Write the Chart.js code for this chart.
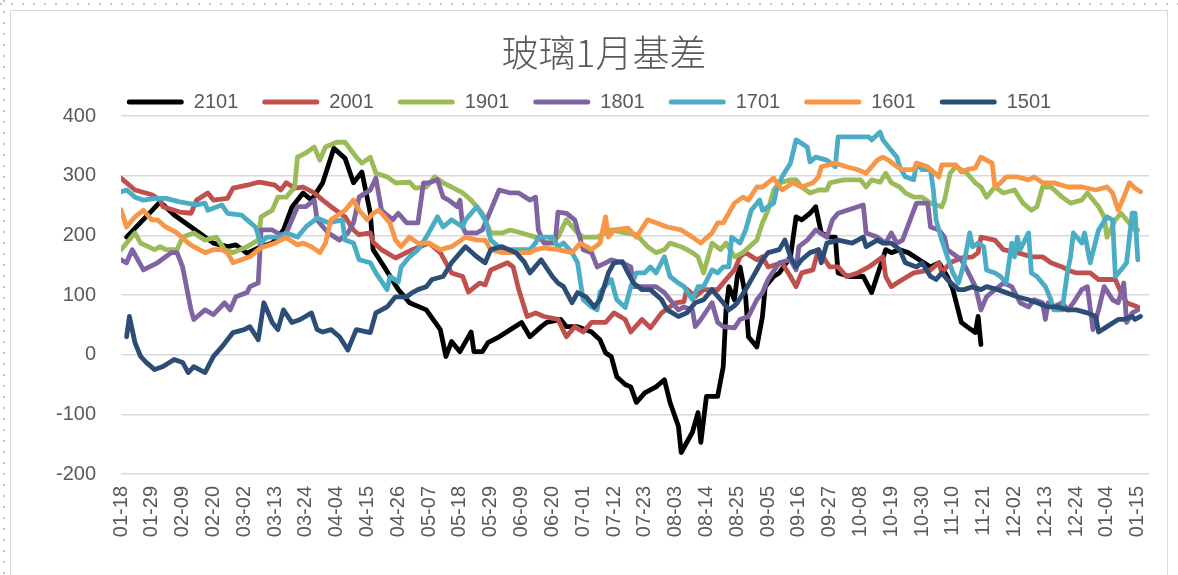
<!DOCTYPE html>
<html>
<head>
<meta charset="utf-8">
<script src="https://cdn.jsdelivr.net/npm/chart.js@4.4.1/dist/chart.umd.min.js"></script>
<style>
html,body{margin:0;padding:0;background:#fff;}
#wrap{position:relative;width:1178px;height:575px;overflow:hidden;background:#fff;}
#frame{position:absolute;left:10px;top:10px;width:1158px;height:600px;border:1.5px solid #d9d9d9;box-sizing:border-box;}
#dotsTop{position:absolute;left:0;top:3px;width:1178px;height:2px;background-image:linear-gradient(to right,#c4c4c4 2px,transparent 2px);background-size:11px 2px;}
#dotsLeft{position:absolute;left:3px;top:0;width:2px;height:575px;background-image:linear-gradient(to bottom,#c4c4c4 2px,transparent 2px);background-size:2px 11px;}
canvas{position:absolute;left:0;top:0;}
</style>
</head>
<body>
<div id="wrap"><div id="dotsTop"></div><div id="dotsLeft"></div><div id="frame"></div><canvas id="c" width="1178" height="575"></canvas></div>
<script>
// x tick labels (every 11 days, day offset 0 = 01-18)
const tickLabels = ['01-18','01-29','02-09','02-20','03-02','03-13','03-24','04-04','04-15','04-26','05-07','05-18','05-29','06-09','06-20','07-01','07-12','07-23','08-03','08-14','08-25','09-05','09-16','09-27','10-08','10-19','10-30','11-10','11-21','12-02','12-13','12-24','01-04','01-15'];
const seriesNames = ['2101','2001','1901','1801','1701','1601','1501'];
const seriesColors = ['#000000','#c0504d','#9bbb59','#8064a2','#4bacc6','#f79646','#2c4d75'];

// day offsets (from 01-18) and basis values per contract
const d2101 = [2,14,19,25,33,38,41,45,50,54,58,61,65,68,72,76,80,83,86,89,90,94,99,103,109,114,116,118,121,125,126,129,131,135,139,143,146,150,152,157,159,163,168,171,173,175,177,180,182,184,187,191,194,196,199,200,204,206,207,209,213,215,216,217,219,220,221,223,224,227,229,230,233,235,239,241,243,246,248,250,253,255,256,260,265,268,271,273,275,278,281,285,289,292,295,297,300,302,305,306,307];
const v2101 = [197,256,234,214,187,181,184,170,181,187,209,247,271,259,288,346,329,288,306,237,176,147,109,87,75,42,-3,22,5,38,5,5,20,30,42,54,30,47,54,59,47,47,38,25,3,-3,-37,-50,-54,-80,-64,-54,-42,-80,-120,-164,-130,-97,-147,-70,-70,-20,75,114,92,131,147,97,30,13,64,114,131,137,164,231,226,237,248,204,197,197,137,131,131,104,147,176,171,176,171,159,147,154,131,109,54,47,37,64,17];

const d2001 = [0,5,11,14,15,21,25,27,31,33,38,40,45,49,51,55,57,59,62,65,69,72,75,80,83,85,89,90,93,98,104,110,114,118,122,124,128,130,132,138,140,142,145,148,151,156,159,162,165,168,173,176,180,182,186,189,193,198,201,202,205,208,213,216,219,221,223,227,229,231,236,239,241,243,247,249,253,256,259,263,267,272,273,275,279,283,289,292,293,296,300,304,306,307,312,315,320,325,329,332,336,338,341,346,349,355,357,359,363];
const v2001 = [296,276,268,259,248,239,237,259,271,259,262,279,284,289,288,284,276,288,279,281,271,259,248,231,209,201,204,189,176,162,176,187,171,137,131,105,120,117,142,154,147,109,64,70,64,59,30,47,38,54,54,70,59,38,59,45,70,87,89,110,97,109,109,126,142,164,171,159,164,147,154,131,114,137,142,176,147,147,131,137,147,164,131,114,126,137,142,154,137,154,162,164,171,197,192,176,171,164,164,154,147,142,137,137,126,126,104,87,80];

const d1901 = [0,5,7,12,14,16,20,22,26,30,34,37,40,45,49,50,54,56,59,62,63,66,69,71,73,77,80,84,86,89,91,95,98,103,105,109,112,115,118,122,125,129,132,136,139,143,148,152,156,159,163,165,170,175,180,184,188,191,194,196,200,204,206,208,211,214,216,219,222,227,229,231,233,235,239,241,243,246,249,252,253,258,264,266,268,271,273,275,278,280,283,286,289,293,294,296,298,300,302,305,307,309,312,315,319,322,325,327,329,332,336,339,343,345,349,351,352,355,357,359,362,363];
const v1901 = [176,204,187,176,181,176,176,197,204,192,197,176,171,181,192,231,242,264,264,281,331,338,348,326,348,356,356,331,321,331,304,298,288,289,279,281,298,288,281,271,259,237,204,204,209,204,197,187,197,226,204,197,197,209,204,201,181,171,176,187,181,171,164,137,187,176,187,164,171,192,221,242,276,288,293,293,281,271,276,276,288,293,293,281,293,289,304,288,281,271,264,264,254,248,259,304,315,310,304,288,281,264,281,271,276,254,242,248,281,281,264,254,259,271,248,231,197,226,237,226,209,209];

const d1801 = [0,2,4,8,13,18,20,22,25,26,30,33,37,39,41,45,46,49,50,54,57,59,63,66,69,70,74,78,81,83,85,89,91,93,97,99,102,106,108,110,113,115,117,120,121,122,123,127,129,132,135,139,142,146,148,149,151,155,156,159,162,163,165,168,170,173,175,179,182,183,187,191,194,196,199,201,204,205,207,211,213,215,219,221,224,227,229,231,235,239,241,242,245,248,252,254,256,265,266,270,273,275,277,279,284,288,289,292,294,295,300,302,305,307,309,312,315,318,321,324,326,329,330,331,333,336,338,340,343,345,347,349,351,354,356,358,359,361,363];
const v1801 = [159,154,176,142,154,171,171,147,75,59,75,67,87,75,97,104,114,120,209,209,201,204,248,248,259,226,204,192,204,221,264,276,296,242,226,237,221,221,288,288,293,264,259,248,259,214,204,204,209,242,276,271,271,259,264,209,187,187,239,237,226,209,176,171,147,154,159,154,147,114,114,114,104,92,75,80,75,47,59,87,54,47,45,59,64,92,104,126,154,159,142,181,192,209,197,226,237,251,204,197,187,204,187,192,254,254,214,209,197,176,159,142,114,75,97,109,120,114,87,80,92,87,59,87,80,87,75,87,109,114,42,75,114,92,87,120,54,70,75];

const d1701 = [0,2,5,8,12,16,21,27,30,31,36,38,43,45,48,50,52,57,59,63,66,70,74,79,80,83,85,89,91,95,96,99,100,103,106,109,113,115,118,122,123,127,130,132,136,142,146,148,149,154,156,158,161,163,165,168,170,171,175,177,180,182,184,187,189,191,194,196,199,201,204,206,208,211,213,215,217,218,221,223,225,228,229,231,233,234,236,239,241,245,246,248,252,255,256,260,267,268,271,272,274,277,278,280,283,284,286,289,290,291,293,295,297,299,301,303,304,306,308,309,312,314,316,318,319,320,321,324,325,327,330,332,333,336,338,339,340,343,344,346,349,352,354,355,357,359,361,362,363];
const v1701 = [273,276,264,259,262,262,256,251,254,242,251,237,234,226,214,187,197,197,204,197,214,229,221,226,192,187,159,154,137,109,131,122,147,164,176,197,231,214,226,214,226,248,226,192,176,176,176,187,197,197,181,187,171,154,92,80,75,105,126,92,79,114,137,137,147,137,164,131,120,114,92,114,114,142,137,147,147,197,187,209,242,259,242,248,254,276,298,321,360,348,323,331,326,315,365,365,365,360,373,360,348,331,315,298,293,321,310,310,276,226,192,164,137,120,154,204,181,187,181,142,137,131,120,187,164,197,176,204,137,131,114,92,75,75,142,164,204,187,204,154,209,231,226,131,142,154,237,237,159];

const d1601 = [0,2,5,8,11,13,16,20,24,26,30,33,36,38,40,43,46,49,51,55,57,59,63,65,68,71,73,75,80,83,85,88,90,92,96,98,100,103,106,110,114,118,123,127,130,132,136,141,146,148,151,156,161,164,168,171,173,174,176,181,184,188,191,195,200,204,207,211,213,215,219,222,224,227,229,233,236,240,243,247,249,250,255,259,263,266,270,272,274,277,279,283,284,288,292,293,298,300,302,305,307,311,312,314,316,320,324,326,329,333,338,343,348,352,354,356,358,360,362,364];
const v1601 = [243,214,231,242,226,226,214,204,187,181,171,176,176,171,154,159,164,176,181,187,192,196,184,187,181,171,187,226,242,259,242,226,237,242,221,192,181,197,187,187,176,181,197,192,192,176,171,171,171,176,179,176,171,187,176,187,231,197,209,212,197,226,221,214,209,197,187,204,221,221,254,264,259,281,281,296,276,288,281,288,298,315,321,315,310,304,326,331,326,315,310,310,321,315,298,318,318,306,310,313,331,321,281,288,298,298,293,298,288,288,281,281,276,281,271,242,264,288,279,273];

const d1501 = [2,3,5,7,9,12,15,19,22,24,26,30,33,36,38,40,44,46,49,51,54,56,58,61,64,68,70,72,75,78,81,84,89,91,95,98,102,104,106,109,111,115,118,123,127,130,132,136,141,144,146,150,154,156,158,161,163,166,169,171,174,176,179,181,183,186,189,193,195,199,202,205,208,211,215,217,219,220,223,227,229,231,235,237,239,241,243,246,249,250,252,256,261,265,266,270,272,275,278,280,284,286,289,291,293,295,299,301,304,307,309,313,316,320,324,327,331,334,338,341,345,348,349,352,356,358,361,362,364];
const v1501 = [30,64,20,-3,-13,-25,-20,-8,-13,-30,-20,-30,-3,13,25,37,42,47,25,87,54,42,75,54,59,70,42,38,42,30,8,42,37,70,80,97,97,104,109,114,126,131,154,181,164,154,176,181,171,155,137,159,131,120,114,87,104,97,80,92,137,154,156,137,120,109,109,92,75,64,70,87,92,109,87,75,82,87,109,142,159,171,176,192,164,147,159,171,176,154,187,192,187,197,181,192,187,187,176,154,147,154,131,126,137,126,109,109,114,109,114,109,104,97,92,87,80,80,75,75,70,64,38,47,59,59,64,59,64];

const dayLists = [d2101, d2001, d1901, d1801, d1701, d1601, d1501];
const valLists = [v2101, v2001, v1901, v1801, v1701, v1601, v1501];

Chart.defaults.font.family = '"Liberation Sans", Arial, sans-serif';
Chart.defaults.color = '#595959';

const datasets = seriesNames.map((name, i) => ({
  label: name,
  data: dayLists[i].map((d, k) => ({x: d, y: valLists[i][k]})),
  borderColor: seriesColors[i],
  backgroundColor: seriesColors[i],
  borderWidth: 4.8,
  pointRadius: 0,
  pointHoverRadius: 0,
  tension: 0,
  borderJoinStyle: 'round',
  borderCapStyle: 'round',
  order: seriesNames.length - i
}));

// nudge the title box so the title sits where the reference has it
const titleShift = {
  id: 'titleShift',
  afterLayout(chart) {
    const t = chart.titleBlock;
    if (t) { t.left += 30; }
  }
};

new Chart(document.getElementById('c'), {
  type: 'line',
  data: { datasets },
  plugins: [titleShift],
  options: {
    responsive: false,
    animation: false,
    devicePixelRatio: 1,
    layout: { padding: { left: 29, right: 29, top: 0, bottom: 0 } },
    plugins: {
      tooltip: { enabled: false },
      title: {
        display: true,
        text: '玻璃1月基差',
        color: '#595959',
        font: { family: '"Noto Sans CJK SC", sans-serif', size: 37, weight: '300', lineHeight: 1 },
        padding: { top: 34, bottom: -3 }
      },
      legend: {
        display: true,
        maxHeight: 48,
        labels: {
          boxWidth: 57,
          boxHeight: 5,
          padding: 24,
          color: '#595959',
          font: { size: 20 },
          useBorderRadius: true,
          borderRadius: 2.5,
          sort: (a, b) => a.datasetIndex - b.datasetIndex,
          generateLabels: (chart) => {
            const items = Chart.defaults.plugins.legend.labels.generateLabels(chart);
            items.forEach(it => { it.lineWidth = 0; });
            return items;
          }
        }
      }
    },
    scales: {
      x: {
        type: 'linear',
        min: 0,
        max: 367,
        grid: { display: false, drawTicks: false },
        border: { display: false },
        afterBuildTicks: (s) => { s.ticks = tickLabels.map((_, i) => ({ value: i * 11 })); },
        afterFit: (s) => { s.height = 101; },
        ticks: {
          autoSkip: false,
          minRotation: 90,
          maxRotation: 90,
          padding: 12,
          color: '#595959',
          font: { size: 20 },
          callback: (v, i) => tickLabels[i]
        }
      },
      y: {
        min: -200,
        max: 400,
        afterFit: (s) => { s.width = 92; },
        grid: { color: '#d9d9d9', lineWidth: 1.5, drawTicks: false },
        border: { display: false },
        ticks: { stepSize: 100, padding: 25, color: '#595959', font: { size: 20 } }
      }
    }
  }
});
</script>
</body>
</html>
